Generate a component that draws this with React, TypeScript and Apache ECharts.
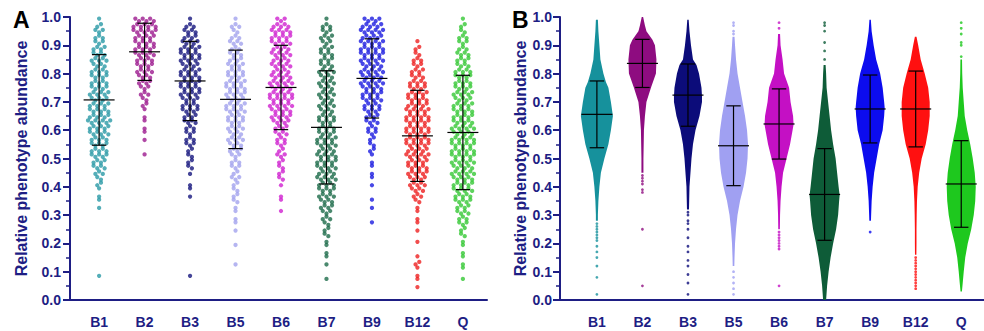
import { useEffect, useRef } from "react";
import * as echarts from "echarts";

const CATEGORIES = ["B1", "B2", "B3", "B5", "B6", "B7", "B9", "B12", "Q"];

// Panel A: number of points per 0.02-wide bin (index 0 = 0.00–0.02 ... index 49 = 0.98–1.00)
const COUNTS_A_B1 = [0,0,0,0,1,0,0,0,0,0, 0,0,0,0,0,0,1,1,1,1, 2,2,3,4,4,5,5,5,5,6, 6,7,6,6,6,5,6,5,5,5, 5,4,5,4,4,3,3,3,2,1];
const COUNTS_A_B2 = [0,0,0,0,0,0,0,0,0,0, 0,0,0,0,0,0,0,0,0,0, 0,0,0,0,0,1,0,0,1,1, 1,1,1,1,2,2,3,3,4,4, 5,5,5,6,6,6,6,7,7,6];
const COUNTS_A_B3 = [0,0,0,0,1,0,0,0,0,0, 0,0,0,0,0,0,0,0,1,1, 1,0,1,2,2,2,2,3,3,3, 3,4,4,5,5,5,6,6,6,6, 6,5,6,6,6,5,4,4,3,1];
const COUNTS_A_B5 = [0,0,0,0,0,0,1,0,0,1, 0,0,1,1,1,1,1,2,2,2, 2,3,2,3,3,3,4,4,5,4, 5,5,5,6,6,5,6,6,6,5, 5,5,4,4,3,4,3,2,3,1];
const COUNTS_A_B6 = [0,0,0,0,0,0,0,0,0,0, 0,0,0,0,0,1,0,1,1,0, 1,2,2,2,2,3,2,3,3,4, 4,5,6,6,7,7,7,6,7,6, 5,6,5,6,5,6,6,6,5,3];
const COUNTS_A_B7 = [0,0,0,1,0,0,1,1,1,1, 1,2,2,2,3,3,4,4,5,5, 5,6,5,6,6,6,5,6,6,5, 5,5,5,4,5,4,5,4,5,4, 5,4,4,4,4,3,4,3,3,1];
const COUNTS_A_B9 = [0,0,0,0,0,0,0,0,0,0, 0,0,0,1,0,0,1,1,0,0, 1,1,1,1,1,1,2,2,2,3, 3,4,4,5,5,6,6,6,7,6, 7,6,7,7,7,7,6,7,6,5];
const COUNTS_A_B12 = [0,0,1,1,1,1,2,1,0,0, 1,0,1,1,1,1,1,2,3,4, 5,5,6,6,6,7,6,7,7,7, 7,7,7,7,6,6,6,5,5,4, 4,3,3,2,2,1,0,0,0,0];
const COUNTS_A_Q = [0,0,0,1,0,1,1,1,1,1, 1,2,2,3,3,4,4,5,5,6, 6,6,7,6,7,7,7,7,7,6, 7,6,6,6,6,5,6,5,5,5, 5,4,4,4,3,3,3,2,2,1];
const COUNTS_A = [COUNTS_A_B1, COUNTS_A_B2, COUNTS_A_B3, COUNTS_A_B5, COUNTS_A_B6, COUNTS_A_B7, COUNTS_A_B9, COUNTS_A_B12, COUNTS_A_Q];
const BIN_WIDTH = 0.02;

const MEAN_A = [0.707, 0.877, 0.774, 0.709, 0.751, 0.61, 0.783, 0.58, 0.592];
const SD_A = [0.16, 0.101, 0.14, 0.174, 0.149, 0.2, 0.14, 0.161, 0.202];

// Panel B: density profile [value, relative width] of each swarm
const VIOLIN_B1 = [[0.28,1],[0.3,1],[0.35,1.5],[0.4,2.5],[0.45,4],[0.5,7.5],[0.55,11.5],[0.6,14],[0.65,16],[0.7,14],[0.75,11.5],[0.77,9],[0.8,6.5],[0.85,3.5],[0.9,2.5],[0.95,1.5],[0.99,1]];
const VIOLIN_B2 = [[0.45,1],[0.5,1],[0.6,1.5],[0.65,2.5],[0.7,4],[0.75,8.5],[0.8,13.5],[0.85,14],[0.9,12.5],[0.92,10],[0.95,4],[0.97,2.5],[1.0,0.7]];
const VIOLIN_B3 = [[0.32,1],[0.35,1.2],[0.4,1.5],[0.45,2.5],[0.5,3.5],[0.55,5],[0.6,7.5],[0.65,11.5],[0.7,14],[0.72,14],[0.75,13.5],[0.8,11],[0.83,8.5],[0.85,5],[0.9,3],[0.95,1.5],[0.99,0.7]];
const VIOLIN_B5 = [[0.12,0.8],[0.15,1],[0.2,1.5],[0.25,2.5],[0.3,4],[0.35,6.5],[0.4,10],[0.45,12.5],[0.5,14],[0.55,14.5],[0.6,13.5],[0.65,11.5],[0.7,9],[0.75,6.5],[0.8,4],[0.85,2.5],[0.9,1.5],[0.93,1]];
const VIOLIN_B6 = [[0.25,0.8],[0.3,1],[0.35,1.5],[0.4,2.5],[0.45,4],[0.5,7.5],[0.55,11],[0.6,13.5],[0.62,14.5],[0.65,14],[0.7,11.5],[0.75,10],[0.8,5],[0.85,3.5],[0.9,1.5],[0.94,1]];
const VIOLIN_B7 = [[0.0,1.5],[0.05,2.5],[0.1,4],[0.15,6],[0.2,8.5],[0.25,11.5],[0.3,13.5],[0.35,14.5],[0.37,15],[0.4,14],[0.45,12.5],[0.5,11],[0.55,8.5],[0.6,6.5],[0.65,5],[0.7,3.5],[0.75,2],[0.8,1.5],[0.83,1]];
const VIOLIN_B9 = [[0.28,0.8],[0.3,1],[0.35,1.5],[0.4,2.5],[0.45,4],[0.5,6.5],[0.55,9],[0.6,12.5],[0.65,14],[0.68,14.5],[0.7,14],[0.75,12.5],[0.8,10],[0.85,6],[0.9,3.5],[0.95,1.5],[0.99,0.7]];
const VIOLIN_B12 = [[0.16,0.7],[0.2,0.8],[0.25,0.8],[0.3,1],[0.35,1.3],[0.4,2],[0.45,3.5],[0.5,6],[0.55,10],[0.6,12.5],[0.65,14],[0.7,14],[0.75,12.5],[0.8,9],[0.85,5],[0.9,2.5],[0.93,0.8]];
const VIOLIN_Q = [[0.03,0.7],[0.06,1.5],[0.1,2.5],[0.15,4],[0.2,6.5],[0.25,10],[0.3,12.5],[0.35,14],[0.4,14.5],[0.45,13.5],[0.5,11.5],[0.55,9],[0.6,6],[0.65,3.5],[0.7,2.5],[0.75,1.5],[0.8,1],[0.85,0.8]];
const VIOLINS_B = [VIOLIN_B1, VIOLIN_B2, VIOLIN_B3, VIOLIN_B5, VIOLIN_B6, VIOLIN_B7, VIOLIN_B9, VIOLIN_B12, VIOLIN_Q];

// Panel B: isolated points outside the dense body
const TAIL_B1 = [0.02,0.08,0.12,0.15,0.17,0.19,0.21,0.22,0.23,0.24,0.25,0.26,0.27];
const TAIL_B2 = [0.05,0.25,0.38,0.39,0.41,0.42,0.43,0.44];
const TAIL_B3 = [0.02,0.06,0.09,0.12,0.14,0.17,0.19,0.22,0.25,0.27,0.28,0.3,0.31];
const TAIL_B5 = [0.02,0.04,0.06,0.08,0.1,0.94,0.95,0.97,0.98];
const TAIL_B6 = [0.05,0.18,0.19,0.2,0.21,0.22,0.23,0.24,0.96,0.98];
const TAIL_B7 = [0.85,0.88,0.91,0.95,0.97,0.98];
const TAIL_B9 = [0.24];
const TAIL_B12 = [0.04,0.05,0.06,0.07,0.08,0.09,0.1,0.11,0.12,0.13,0.14,0.15];
const TAIL_Q = [0.86,0.9,0.91,0.94,0.96,0.98];
const TAILS_B = [TAIL_B1, TAIL_B2, TAIL_B3, TAIL_B5, TAIL_B6, TAIL_B7, TAIL_B9, TAIL_B12, TAIL_Q];

const MEAN_B = [0.656, 0.836, 0.724, 0.545, 0.622, 0.373, 0.675, 0.675, 0.41];
const SD_B = [0.118, 0.085, 0.11, 0.141, 0.124, 0.162, 0.12, 0.134, 0.153];

const COLORS_A = ["#2a9aa6", "#9c1a8e", "#16167e", "#a3a3ee", "#d022d0", "#1d6b4a", "#1c1ce0", "#ee2020", "#36c836"];
const COLORS_B = ["#16919c", "#8e0c80", "#0c0c7a", "#a0a0f2", "#c410c4", "#0e5c38", "#0c0cee", "#ff1010", "#1ec81e"];

const NAVY = "#1e1e84";
const FONT = "'Liberation Sans', Arial, sans-serif";
const UNIT_PX = 45.5;
const DOT_STEP = 3.7 / UNIT_PX;
const ZIG = 0.0045;
const WIDTH_SCALE = 1 / UNIT_PX;
const MEAN_HW = 15.5 / UNIT_PX;
const CAP_HW = 7.2 / UNIT_PX;

function swarm(counts: number[], ci: number) {
  const pts: number[][] = [];
  counts.forEach((n, i) => {
    const yc = BIN_WIDTH * (i + 0.5);
    for (let j = 0; j < n; j++) {
      const x = ci + (j - (n - 1) / 2) * DOT_STEP;
      const y = yc + ((j + i) % 2 === 0 ? -ZIG : ZIG);
      pts.push([x, y]);
    }
  });
  return pts;
}

const meanSdRender = (_params: any, api: any) => {
  const x = api.value(0);
  const m = api.value(1);
  const s = api.value(2);
  const c = (xx: number, yy: number) => api.coord([xx, yy]);
  const seg = (a: number[], b: number[]) => ({
    type: "line",
    shape: { x1: a[0], y1: a[1], x2: b[0], y2: b[1] },
    style: { stroke: "#000", lineWidth: 1.2 },
  });
  return {
    type: "group",
    children: [
      seg(c(x, m - s), c(x, m + s)),
      seg(c(x - MEAN_HW, m), c(x + MEAN_HW, m)),
      seg(c(x - CAP_HW, m + s), c(x + CAP_HW, m + s)),
      seg(c(x - CAP_HW, m - s), c(x + CAP_HW, m - s)),
    ],
  };
};

const violinRender = (params: any, api: any) => {
  const ci = api.value(0);
  const prof = VIOLINS_B[params.dataIndex];
  const left = prof.map(([y, d]) => api.coord([ci - d * WIDTH_SCALE, y]));
  const right = prof.slice().reverse().map(([y, d]) => api.coord([ci + d * WIDTH_SCALE, y]));
  return {
    type: "polygon",
    shape: { points: left.concat(right) },
    style: { fill: COLORS_B[params.dataIndex] },
  };
};

function yAxis(gridIndex: number, nameGap: number, labelMargin: number) {
  return {
    gridIndex,
    type: "value",
    min: 0,
    max: 1,
    interval: 0.1,
    name: "Relative phenotype abundance",
    nameLocation: "middle",
    nameGap,
    nameTextStyle: { color: NAVY, fontSize: 16, fontWeight: "bold", fontFamily: FONT },
    axisLine: { show: true, onZero: false, lineStyle: { color: NAVY, width: 2 } },
    axisTick: { show: true, length: 7, lineStyle: { color: NAVY, width: 2 } },
    minorTick: { show: true, splitNumber: 2, length: 4, lineStyle: { color: NAVY, width: 1.5 } },
    splitLine: { show: false },
    axisLabel: {
      color: NAVY,
      fontSize: 14,
      fontWeight: "bold",
      fontFamily: FONT,
      margin: labelMargin,
      formatter: (v: number) => v.toFixed(1),
    },
  };
}

function xAxis(gridIndex: number, min: number, max: number) {
  return {
    gridIndex,
    type: "value",
    min,
    max,
    axisLine: { show: true, onZero: false, lineStyle: { color: NAVY, width: 2 } },
    axisTick: { show: false },
    splitLine: { show: false },
    axisLabel: {
      color: NAVY,
      fontSize: 14,
      fontWeight: "bold",
      fontFamily: FONT,
      margin: 15,
      customValues: CATEGORIES.map((_, i) => i),
      formatter: (v: number) => CATEGORIES[Math.round(v)] ?? "",
    },
  };
}

export default function App() {
  const ref = useRef<HTMLDivElement>(null);
  useEffect(() => {
    if (!ref.current) return;
    const chart = echarts.init(ref.current, null, { renderer: "svg" });
    const series: any[] = [];
    CATEGORIES.forEach((cat, ci) => {
      series.push({
        type: "scatter",
        name: "A " + cat,
        xAxisIndex: 0,
        yAxisIndex: 0,
        symbol: "circle",
        symbolSize: 4.3,
        itemStyle: { color: COLORS_A[ci] },
        data: swarm(COUNTS_A[ci], ci),
        z: 2,
      });
    });
    series.push({
      type: "custom",
      name: "A mean",
      xAxisIndex: 0,
      yAxisIndex: 0,
      renderItem: meanSdRender,
      encode: { x: 0, y: 1 },
      data: CATEGORIES.map((_, ci) => [ci, MEAN_A[ci], SD_A[ci]]),
      z: 5,
    });
    series.push({
      type: "custom",
      name: "B body",
      xAxisIndex: 1,
      yAxisIndex: 1,
      renderItem: violinRender,
      encode: { x: 0, y: 1 },
      data: CATEGORIES.map((_, ci) => [ci, MEAN_B[ci]]),
      z: 2,
    });
    CATEGORIES.forEach((cat, ci) => {
      series.push({
        type: "scatter",
        name: "B " + cat,
        xAxisIndex: 1,
        yAxisIndex: 1,
        symbol: "circle",
        symbolSize: 2.8,
        itemStyle: { color: COLORS_B[ci] },
        data: TAILS_B[ci].map((v) => [ci, v]),
        z: 2,
      });
    });
    series.push({
      type: "custom",
      name: "B mean",
      xAxisIndex: 1,
      yAxisIndex: 1,
      renderItem: meanSdRender,
      encode: { x: 0, y: 1 },
      data: CATEGORIES.map((_, ci) => [ci, MEAN_B[ci], SD_B[ci]]),
      z: 5,
    });

    chart.setOption({
      animation: false,
      backgroundColor: "#ffffff",
      textStyle: { fontFamily: FONT },
      grid: [
        { left: 70, top: 17, width: 417, height: 283 },
        { left: 560, top: 17, width: 424, height: 283 },
      ],
      xAxis: [xAxis(0, -0.64, 8.53), xAxis(1, -0.81, 8.5)],
      yAxis: [yAxis(0, 41, 9), yAxis(1, 31, 8)],
      graphic: [
        { type: "text", left: 13, top: 8, style: { text: "A", fontSize: 23, fontWeight: "bold", fill: "#000", fontFamily: FONT } },
        { type: "text", left: 512, top: 8, style: { text: "B", fontSize: 23, fontWeight: "bold", fill: "#000", fontFamily: FONT } },
      ],
      series,
    });
    return () => chart.dispose();
  }, []);
  return <div ref={ref} style={{ position: "fixed", left: 0, top: 0, width: 984, height: 331 }} />;
}
